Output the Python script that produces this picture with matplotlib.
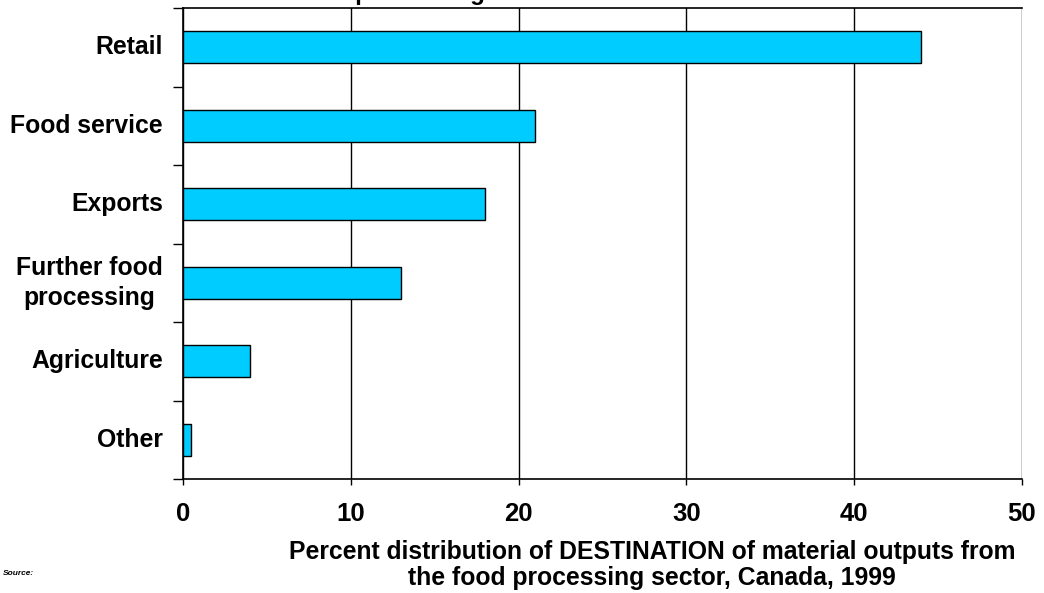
import matplotlib.pyplot as plt

plt.rcParams['font.family'] = ['Liberation Sans', 'DejaVu Sans']
plt.rcParams['font.weight'] = 'bold'

# Destination shares (percent), top to bottom
categories = ["Retail", "Food service", "Exports", "Further food\nprocessing", "Agriculture", "Other"]
shares = [44, 21, 18, 13, 4, 0.5]
xticks = [0, 10, 20, 30, 40, 50]

fig = plt.figure(figsize=(10.44, 5.93), dpi=100)
ax = fig.add_axes([183 / 1044, 1 - 479 / 593, (1022 - 183) / 1044, (479 - 8) / 593])

pos = list(range(len(categories)))
ax.barh(pos, shares, height=0.41, color="#00CCFF", edgecolor="black", linewidth=1.0, zorder=3)

ax.set_xlim(0, 50)
ax.set_ylim(len(categories) - 0.5, -0.5)
ax.set_xticks(xticks)
ax.set_xticklabels([str(t) for t in xticks], fontsize=18.5, fontweight="bold")
ax.tick_params(axis="x", length=4.5, width=1, pad=12)

# category names sit between boundary ticks
ax.set_yticks([p - 0.5 for p in pos] + [len(categories) - 0.5])
ax.set_yticklabels([])
ax.tick_params(axis="y", length=7, width=1)
for p, name in zip(pos, categories):
    ax.text(-0.024, p, name, transform=ax.get_yaxis_transform(), ha="right", va="center",
            fontsize=17.8, fontweight="bold", multialignment="center", linespacing=1.3)

ax.grid(axis="x", color="black", linewidth=1, zorder=0)
ax.spines["right"].set_visible(False)
for s in ("left", "bottom", "top"):
    ax.spines[s].set_linewidth(1.2)

# axis caption, set slightly right of the plot centre
fig.text(652 / 1044, 1 - 565 / 593,
         "Percent distribution of DESTINATION of material outputs from\nthe food processing sector, Canada, 1999",
         ha="center", va="center", fontsize=17.8, fontweight="bold", linespacing=1.15)

# title sits above the top edge of the canvas
fig.text(0.371, 1.0, "Food processing", ha="center", va="baseline", fontsize=17.5, fontweight="bold")
fig.text(0.003, 0.03, "Source:", fontsize=6, fontweight="bold", style="italic")

fig.savefig("out.png", dpi=100)
